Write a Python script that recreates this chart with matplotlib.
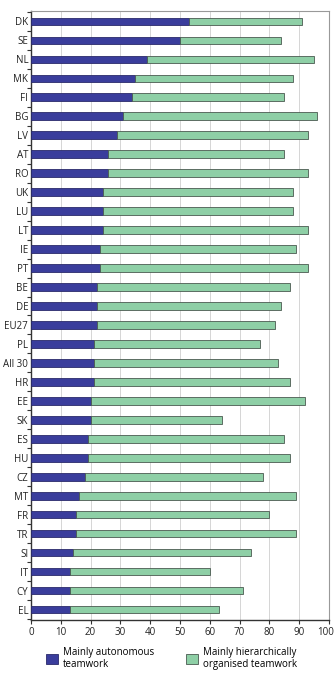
import matplotlib
matplotlib.use("Agg")
import matplotlib.pyplot as plt
import matplotlib.transforms as mtransforms
from matplotlib.patches import Patch
import numpy as np

countries = ["DK", "SE", "NL", "MK", "FI", "BG", "LV", "AT", "RO", "UK", "LU", "LT",
             "IE", "PT", "BE", "DE", "EU27", "PL", "All 30", "HR", "EE", "SK", "ES",
             "HU", "CZ", "MT", "FR", "TR", "SI", "IT", "CY", "EL"]
autonomous = [53, 50, 39, 35, 34, 31, 29, 26, 26, 24, 24, 24,
              23, 23, 22, 22, 22, 21, 21, 21, 20, 20, 19,
              19, 18, 16, 15, 15, 14, 13, 13, 13]
totals = [91, 84, 95, 88, 85, 96, 93, 85, 93, 88, 88, 93,
          89, 93, 87, 84, 82, 77, 83, 87, 92, 64, 85,
          87, 78, 89, 80, 89, 74, 60, 71, 63]
hierarchical = [t - a for t, a in zip(totals, autonomous)]
xticks = [0, 10, 20, 30, 40, 50, 60, 70, 80, 90, 100]
legend_labels = ["Mainly autonomous\nteamwork", "Mainly hierarchically\norganised teamwork"]

blue = "#3a3d9c"
green = "#8ecfa6"
edge = "#4a5a50"

plt.rcParams['font.family'] = ['Open Sans', 'DejaVu Sans']
fig = plt.figure(figsize=(3.35, 6.77), dpi=100)
ax = fig.add_axes([0.0925, 0.0842, 0.8895, 0.8996])

y = np.arange(len(countries))
h = 0.4
ax.barh(y, autonomous, height=h, color=blue, edgecolor="#2a2a6a", linewidth=0.6, zorder=3)
ax.barh(y, hierarchical, left=autonomous, height=h, color=green, edgecolor=edge, linewidth=0.6, zorder=3)

ax.set_ylim(len(countries) - 0.45, -0.55)
ax.set_xlim(0, 100)
ax.set_xticks(xticks)
ax.set_xticklabels([str(t) for t in xticks], fontsize=7)
ax.set_yticks(y)
ax.set_yticklabels(countries, fontsize=7)
ax.set_yticks(np.arange(len(countries) + 1) - 0.5, minor=True)
ax.tick_params(axis='y', which='major', length=0, pad=2, colors="#222222")
ax.tick_params(axis='y', which='minor', length=3, width=0.8, color="#333333")
ax.tick_params(axis='x', which='major', length=3, width=0.8, pad=2, color="#333333", labelcolor="#222222")

last = ax.get_xticklabels()[-1]
last.set_transform(last.get_transform() + mtransforms.ScaledTranslation(-3 / 100, 0, fig.dpi_scale_trans))

ax.grid(axis='x', color="#d5d5d5", linewidth=0.7, zorder=0)
ax.set_axisbelow(True)
for s in ["left", "bottom"]:
    ax.spines[s].set_color("#333333")
    ax.spines[s].set_linewidth(1.0)
for s in ["top", "right"]:
    ax.spines[s].set_color("#999999")
    ax.spines[s].set_linewidth(0.8)

handles = [Patch(facecolor=blue, edgecolor="#2a2a6a", linewidth=0.6),
           Patch(facecolor=green, edgecolor=edge, linewidth=0.6)]
fig.legend(handles, legend_labels, loc="upper left", bbox_to_anchor=(0.138, 0.045),
           ncol=2, frameon=False, fontsize=7, handlelength=1.2, handleheight=1.2,
           handletextpad=0.5, columnspacing=3.3, borderaxespad=0, borderpad=0,
           labelspacing=0.2)

fig.savefig("out.png", dpi=100)
